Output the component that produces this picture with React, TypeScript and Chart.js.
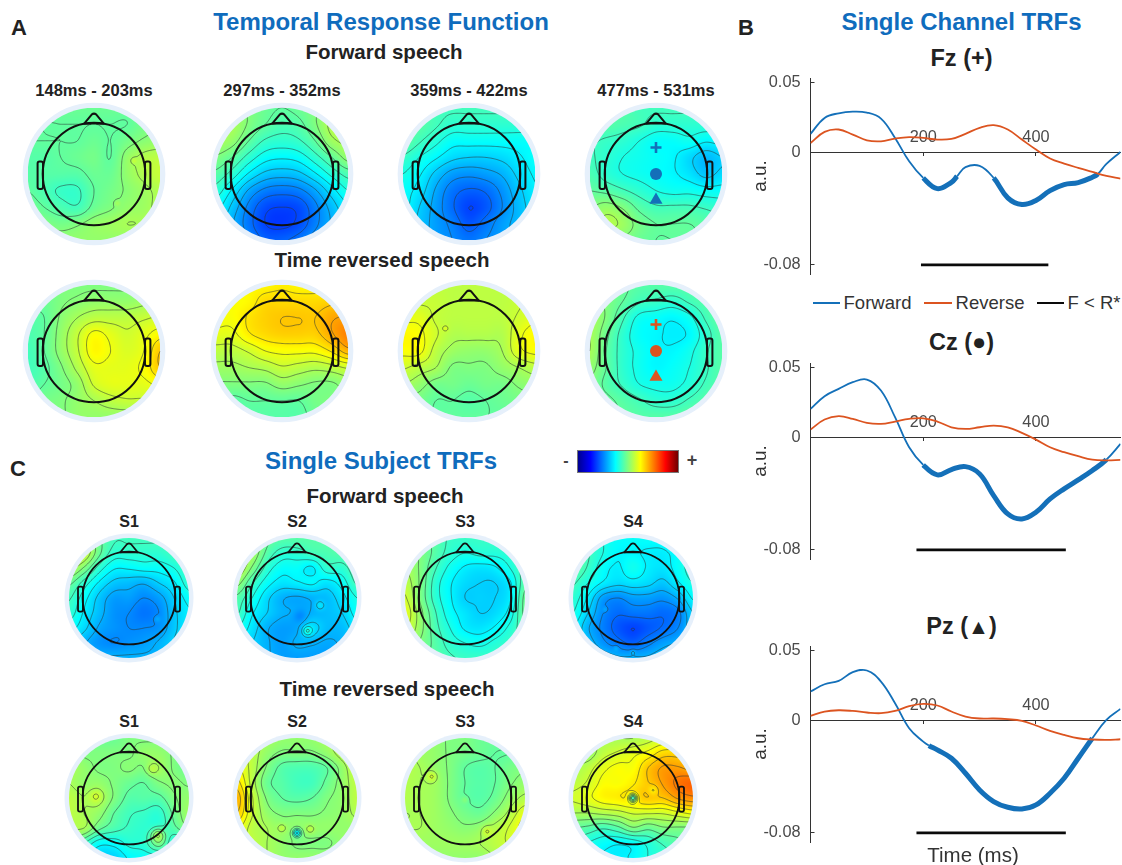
import React, { useEffect, useRef } from "react";
import { Chart, registerables } from "chart.js";

Chart.register(...registerables);

/* ---------- single channel traces (time in ms, amplitude in a.u.) ---------- */
const reverseTimes = [0, 25, 50, 75, 100, 125, 150, 175, 200, 225, 250, 275, 300, 325, 350, 375, 400, 425, 450, 475, 500, 525, 550];

const fzForwardTimes = [0, 25, 50, 75, 100, 125, 150, 175, 200, 225, 250, 260, 275, 300, 325, 350, 375, 400, 425, 450, 475, 500, 510, 525, 550];
const fzForward = [0.0136, 0.025, 0.0283, 0.0295, 0.0288, 0.0245, 0.0107, -0.006, -0.0179, -0.0255, -0.021, -0.0167, -0.0102, -0.0093, -0.0179, -0.0321, -0.0369, -0.034, -0.0269, -0.0226, -0.0212, -0.0174, -0.015, -0.0079, 0.0007];
const fzReverse = [0.0071, 0.015, 0.0167, 0.0131, 0.009, 0.0083, 0.0102, 0.0112, 0.0107, 0.0095, 0.01, 0.0136, 0.0179, 0.0198, 0.0167, 0.0095, 0.0024, -0.004, -0.0076, -0.0107, -0.0136, -0.0164, -0.0183];
const fzThick = [[200, 260], [325, 510]];
const fzBar = [196, 422];

const czForwardTimes = reverseTimes;
const czForward = [0.0207, 0.0298, 0.035, 0.0398, 0.0417, 0.0338, 0.0148, -0.0067, -0.0193, -0.0264, -0.0226, -0.0205, -0.0257, -0.0412, -0.0543, -0.0579, -0.0531, -0.0436, -0.0364, -0.03, -0.0233, -0.0155, -0.0043];
const czReverse = [0.006, 0.0131, 0.0155, 0.0136, 0.0107, 0.01, 0.0117, 0.0136, 0.014, 0.0117, 0.0076, 0.0064, 0.0076, 0.0088, 0.0076, 0.0036, -0.0012, -0.0067, -0.0102, -0.0131, -0.0155, -0.016, -0.0157];
const czThick = [[200, 525]];
const czBar = [188, 453];

const pzForwardTimes = [0, 25, 50, 75, 100, 125, 150, 175, 200, 210, 225, 250, 275, 300, 325, 350, 375, 400, 425, 450, 475, 500, 525, 550];
const pzForward = [0.021, 0.0262, 0.0286, 0.0348, 0.036, 0.0281, 0.0126, -0.0052, -0.0148, -0.0176, -0.0207, -0.0267, -0.0374, -0.0493, -0.0576, -0.0617, -0.0629, -0.06, -0.0517, -0.041, -0.0267, -0.0124, 0.0007, 0.0086];
const pzReverse = [0.0036, 0.0067, 0.0076, 0.0071, 0.006, 0.0055, 0.0071, 0.0105, 0.0121, 0.011, 0.0067, 0.0031, 0.0017, 0.0017, 0.0012, 0, -0.0033, -0.0071, -0.01, -0.0124, -0.0133, -0.0136, -0.0131];
const pzThick = [[210, 500]];
const pzBar = [188, 453];

const yTicks = [-0.08, 0, 0.05];
const xTicks = [200, 400];
const barLevel = -0.08;

/* ---------- scalp maps: 9x9 levels on the jet scale 0-100, top row = front ---------- */
const forwardA1 = [
  [48, 48, 48, 48, 48, 48, 48, 48, 48],
  [48, 47, 47, 47, 47, 47, 47, 49, 50],
  [47, 47, 47, 47, 48, 47, 49, 51, 52],
  [46, 46, 47, 48, 49, 47, 52, 55, 56],
  [46, 46, 46, 46, 48, 48, 52, 55, 57],
  [47, 45, 43, 43, 47, 49, 51, 53, 55],
  [49, 47, 45, 44, 48, 50, 52, 53, 55],
  [50, 50, 49, 50, 52, 53, 54, 54, 55],
  [52, 52, 52, 52, 52, 52, 52, 52, 52],
];
const forwardA2 = [
  [52, 52, 50, 48, 47, 48, 50, 52, 52],
  [54, 54, 50, 47, 45, 46, 50, 55, 56],
  [54, 52, 47, 43, 42, 43, 47, 53, 55],
  [50, 47, 42, 38, 37, 38, 42, 47, 52],
  [46, 42, 36, 32, 31, 32, 36, 41, 45],
  [42, 36, 29, 25, 24, 25, 29, 35, 40],
  [38, 32, 25, 20, 19, 20, 25, 31, 36],
  [36, 30, 24, 19, 18, 20, 25, 30, 34],
  [36, 32, 26, 22, 22, 24, 28, 32, 34],
];
const forwardA3 = [
  [44, 44, 44, 44, 44, 44, 44, 44, 44],
  [46, 46, 44, 42, 42, 42, 42, 42, 42],
  [47, 44, 41, 38, 38, 38, 38, 38, 38],
  [43, 40, 37, 34, 33, 33, 34, 36, 38],
  [40, 37, 32, 28, 27, 28, 30, 34, 37],
  [38, 35, 29, 24, 22, 23, 27, 32, 36],
  [38, 33, 28, 23, 19, 21, 26, 31, 35],
  [36, 32, 28, 25, 21, 24, 28, 31, 34],
  [35, 32, 28, 26, 24, 26, 28, 31, 33],
];
const forwardA4 = [
  [46, 46, 46, 44, 44, 44, 44, 44, 44],
  [46, 46, 45, 44, 42, 42, 42, 42, 42],
  [44, 43, 42, 40, 38, 38, 39, 37, 38],
  [44, 42, 40, 39, 38, 37, 34, 31, 33],
  [45, 42, 40, 39, 38, 37, 35, 32, 34],
  [47, 46, 44, 42, 40, 39, 39, 38, 38],
  [50, 52, 50, 46, 44, 44, 44, 43, 42],
  [50, 55, 53, 49, 47, 47, 47, 46, 44],
  [50, 50, 50, 48, 47, 47, 47, 46, 44],
];
const reverseA1 = [
  [48, 48, 50, 50, 50, 50, 50, 50, 50],
  [48, 48, 50, 51, 52, 52, 52, 53, 54],
  [46, 47, 51, 54, 56, 56, 56, 57, 58],
  [45, 47, 52, 57, 62, 60, 58, 60, 63],
  [44, 47, 52, 57, 63, 61, 59, 61, 68],
  [44, 46, 50, 55, 60, 60, 60, 62, 68],
  [45, 47, 49, 52, 58, 60, 60, 60, 62],
  [47, 49, 50, 52, 54, 56, 57, 57, 58],
  [50, 50, 50, 52, 52, 52, 52, 52, 52],
];
const reverseA2 = [
  [62, 62, 63, 63, 64, 63, 63, 63, 63],
  [62, 62, 63, 66, 66, 66, 66, 67, 68],
  [62, 62, 65, 67, 68, 68, 68, 71, 72],
  [60, 60, 64, 66, 67, 67, 67, 71, 75],
  [56, 56, 58, 61, 62, 62, 62, 65, 70],
  [53, 53, 54, 55, 57, 56, 55, 56, 58],
  [50, 50, 50, 50, 52, 51, 50, 50, 52],
  [47, 46, 47, 47, 47, 47, 49, 50, 51],
  [46, 46, 46, 46, 46, 46, 48, 50, 50],
];
const reverseA3 = [
  [56, 56, 56, 56, 56, 56, 56, 56, 56],
  [58, 57, 57, 56, 56, 56, 56, 57, 58],
  [60, 60, 57, 56, 56, 56, 56, 58, 60],
  [63, 62, 58, 55, 55, 55, 55, 60, 63],
  [62, 62, 56, 53, 52, 52, 54, 60, 62],
  [58, 56, 54, 50, 50, 50, 52, 54, 56],
  [54, 52, 49, 49, 48, 49, 49, 51, 52],
  [50, 49, 47, 47, 46, 47, 48, 49, 50],
  [47, 47, 47, 47, 47, 47, 47, 47, 47],
];
const reverseA4 = [
  [50, 50, 48, 46, 46, 46, 46, 47, 47],
  [52, 50, 47, 44, 43, 42, 44, 46, 47],
  [54, 50, 44, 39, 38, 37, 39, 44, 47],
  [54, 48, 42, 38, 37, 36, 37, 42, 46],
  [54, 47, 42, 39, 37, 37, 39, 43, 46],
  [52, 47, 42, 39, 37, 38, 40, 43, 46],
  [50, 46, 43, 40, 39, 39, 41, 44, 46],
  [50, 48, 46, 44, 42, 42, 44, 46, 48],
  [50, 48, 47, 46, 46, 46, 47, 48, 50],
];
const subjectF1 = [
  [58, 56, 48, 44, 44, 44, 44, 44, 44],
  [63, 58, 48, 42, 42, 42, 42, 44, 46],
  [56, 50, 42, 37, 37, 38, 38, 40, 44],
  [48, 42, 36, 32, 31, 30, 33, 36, 42],
  [44, 38, 32, 28, 28, 26, 28, 33, 38],
  [42, 36, 31, 27, 26, 24, 26, 32, 36],
  [38, 34, 29, 27, 26, 26, 27, 32, 36],
  [34, 30, 27, 26, 27, 28, 30, 33, 36],
  [30, 30, 30, 30, 30, 30, 30, 30, 30],
];
const subjectF2 = [
  [54, 54, 48, 46, 46, 46, 46, 46, 46],
  [58, 54, 46, 42, 42, 44, 45, 46, 47],
  [58, 50, 42, 38, 38, 36, 42, 42, 46],
  [52, 44, 38, 35, 36, 37, 35, 38, 44],
  [46, 40, 34, 30, 29, 30, 31, 35, 40],
  [44, 37, 33, 30, 30, 30, 31, 33, 38],
  [40, 35, 30, 28, 29, 34, 31, 31, 35],
  [36, 33, 30, 28, 30, 30, 29, 30, 32],
  [32, 32, 30, 28, 28, 28, 28, 30, 30],
];
const subjectF3 = [
  [48, 48, 46, 43, 43, 43, 43, 43, 43],
  [52, 50, 46, 42, 40, 41, 41, 42, 44],
  [54, 50, 44, 39, 36, 35, 36, 40, 45],
  [56, 50, 42, 37, 34, 33, 33, 36, 46],
  [58, 50, 42, 37, 33, 33, 33, 36, 48],
  [60, 52, 44, 38, 35, 33, 34, 38, 48],
  [58, 52, 45, 40, 36, 35, 37, 41, 46],
  [54, 50, 46, 42, 40, 39, 41, 43, 46],
  [50, 48, 46, 44, 43, 43, 43, 44, 46],
];
const subjectF4 = [
  [48, 44, 40, 38, 38, 38, 38, 40, 42],
  [48, 44, 40, 37, 37, 36, 36, 38, 42],
  [47, 43, 38, 36, 39, 36, 35, 38, 42],
  [44, 40, 36, 34, 35, 34, 32, 36, 40],
  [42, 36, 28, 26, 28, 28, 27, 30, 37],
  [40, 33, 26, 23, 24, 24, 23, 25, 33],
  [37, 30, 25, 21, 19, 21, 23, 26, 32],
  [38, 32, 27, 24, 22, 25, 28, 30, 33],
  [38, 36, 32, 30, 30, 30, 32, 34, 36],
];
const subjectR1 = [
  [50, 50, 48, 48, 50, 50, 50, 50, 50],
  [52, 50, 50, 50, 50, 52, 52, 50, 48],
  [54, 52, 50, 50, 51, 50, 53, 50, 48],
  [54, 52, 52, 50, 48, 47, 50, 51, 50],
  [56, 54, 54, 50, 46, 46, 46, 50, 52],
  [56, 54, 52, 47, 44, 43, 42, 48, 53],
  [54, 54, 48, 45, 43, 42, 42, 46, 50],
  [52, 44, 38, 38, 41, 42, 48, 40, 38],
  [44, 38, 33, 33, 37, 38, 38, 38, 38],
];
const subjectR2 = [
  [56, 56, 54, 52, 52, 52, 54, 56, 56],
  [60, 56, 52, 50, 50, 50, 52, 56, 60],
  [62, 56, 50, 46, 45, 45, 47, 52, 58],
  [66, 56, 48, 46, 44, 44, 48, 52, 56],
  [70, 58, 50, 47, 46, 47, 50, 52, 56],
  [68, 58, 52, 50, 50, 50, 51, 52, 55],
  [62, 56, 54, 52, 52, 52, 52, 52, 52],
  [58, 56, 54, 52, 50, 50, 50, 52, 54],
  [54, 54, 54, 52, 52, 52, 52, 52, 52],
];
const subjectR3 = [
  [53, 53, 52, 50, 50, 48, 48, 48, 48],
  [55, 53, 52, 50, 49, 48, 47, 47, 48],
  [55, 54, 52, 50, 47, 46, 47, 49, 50],
  [55, 54, 53, 50, 47, 46, 47, 50, 52],
  [55, 54, 53, 50, 47, 46, 48, 52, 55],
  [54, 54, 53, 51, 49, 48, 51, 55, 60],
  [54, 54, 53, 52, 51, 52, 55, 58, 63],
  [53, 53, 53, 53, 53, 54, 56, 58, 60],
  [52, 52, 52, 52, 52, 52, 54, 56, 58],
];
const subjectR4 = [
  [54, 54, 54, 54, 54, 56, 58, 58, 58],
  [52, 52, 56, 58, 60, 62, 66, 66, 64],
  [54, 56, 60, 62, 62, 68, 72, 72, 70],
  [56, 58, 62, 62, 64, 68, 72, 76, 78],
  [58, 60, 63, 64, 66, 68, 68, 72, 74],
  [54, 54, 55, 56, 58, 58, 58, 60, 62],
  [47, 46, 44, 46, 50, 48, 50, 50, 50],
  [44, 40, 38, 37, 38, 41, 44, 46, 48],
  [40, 38, 36, 36, 37, 40, 42, 44, 46],
];

/* small local patches: x, y, level change, radius */
const spotsA1 = [[0.6, 0.2, 3, 0.03], [0.35, -0.44, 3, 0.03]];
const spotsB3 = [[-0.35, 0.34, 3, 0.03]];
const spotsF1 = [[0.47, -0.35, 3, 0.04]];
const spotsF2 = [[0.17, -0.55, 8, 0.06], [0.38, -0.12, 5, 0.06], [0.05, -0.3, -4, 0.08]];
const spotsF4 = [[-0.46, -0.19, 3, 0.03], [-0.28, -0.84, 3, 0.03], [0, -0.9, 3, 0.03]];
const spotsR1 = [[0.48, -0.61, 9, 0.08], [-0.55, 0.03, 4, 0.08], [0.38, 0.48, 4, 0.07]];
const spotsR2 = [[0, -0.58, -16, 0.05], [-0.25, -0.5, 4, 0.05], [0.22, -0.52, 4, 0.05]];
const spotsR3 = [[-0.55, 0.36, 5, 0.06], [0.36, -0.55, 4, 0.06], [0, -0.03, 3, 0.04]];
const spotsR4 = [[0, 0, -22, 0.05], [0.34, 0.13, -5, 0.06]];

const markerY = [0.4, 0, -0.39];
const markerStyles = ["cross", "circle", "triangle"];
const gridStops = [-1, -0.75, -0.5, -0.25, 0, 0.25, 0.5, 0.75, 1];

const font = '"Liberation Sans", Arial, sans-serif';
const BLUE = "#0f6cbd";
const FORWARD = "#1470b9";
const REVERSE = "#dc5420";

const clamp = (v: number) => Math.max(0, Math.min(1, v));
const jet = (level: number) => {
  const t = level / 100;
  return [clamp(1.5 - Math.abs(4 * t - 3)) * 255, clamp(1.5 - Math.abs(4 * t - 2)) * 255, clamp(1.5 - Math.abs(4 * t - 1)) * 255];
};
const cubic = (a: number, b: number, c: number, d: number, t: number) =>
  b + 0.5 * t * (c - a + t * (2 * a - 5 * b + 4 * c - d + t * (3 * (b - c) + d - a)));

const sampler = (points: any[], spots: number[][]) => {
  const at = (i: number, j: number) => points[Math.max(0, Math.min(8, j)) * 9 + Math.max(0, Math.min(8, i))].v;
  return (x: number, y: number) => {
    const gx = Math.max(0, Math.min(7.9999, (x + 1) * 4));
    const gy = Math.max(0, Math.min(7.9999, (1 - y) * 4));
    const i = Math.floor(gx), j = Math.floor(gy);
    const row = [-1, 0, 1, 2].map((dj) =>
      cubic(at(i - 1, j + dj), at(i, j + dj), at(i + 1, j + dj), at(i + 2, j + dj), gx - i));
    let v = cubic(row[0], row[1], row[2], row[3], gy - j);
    for (const [sx, sy, amp, rad] of spots) {
      const d2 = (x - sx) ** 2 + (y - sy) ** 2;
      v += amp * Math.exp(-d2 / (2 * rad * rad));
    }
    return v;
  };
};

const topoPlugin = {
  id: "topo",
  beforeDatasetsDraw(chart: any) {
    const { ctx, scales } = chart;
    const ds = chart.data.datasets[0];
    const field = sampler(ds.data, ds.spots || []);
    const cx = scales.x.getPixelForValue(0);
    const cy = scales.y.getPixelForValue(0);
    const R = scales.x.getPixelForValue(1) - cx;
    ctx.save();
    ctx.fillStyle = "#e6f0fb";
    ctx.beginPath();
    ctx.arc(cx, cy, R * 1.075, 0, Math.PI * 2);
    ctx.fill();

    const n = Math.ceil(R * 2);
    const off = document.createElement("canvas");
    off.width = n;
    off.height = n;
    const octx = off.getContext("2d") as CanvasRenderingContext2D;
    const img = octx.createImageData(n, n);
    for (let py = 0; py < n; py++) {
      for (let px = 0; px < n; px++) {
        const x = ((px + 0.5) / n) * 2 - 1;
        const y = 1 - ((py + 0.5) / n) * 2;
        const [r, g, b] = jet(field(x, y));
        const k = (py * n + px) * 4;
        img.data[k] = r;
        img.data[k + 1] = g;
        img.data[k + 2] = b;
        img.data[k + 3] = 255;
      }
    }
    octx.putImageData(img, 0, 0);
    ctx.save();
    ctx.beginPath();
    ctx.arc(cx, cy, R, 0, Math.PI * 2);
    ctx.clip();
    ctx.drawImage(off, cx - R, cy - R, R * 2, R * 2);

    // contour lines by marching squares
    const N = 110;
    const vals: number[][] = [];
    for (let j = 0; j <= N; j++) {
      const line: number[] = [];
      for (let i = 0; i <= N; i++) line.push(field((i / N) * 2 - 1, 1 - (j / N) * 2));
      vals.push(line);
    }
    ctx.strokeStyle = "rgba(45,55,55,0.7)";
    ctx.lineWidth = 0.8;
    ctx.beginPath();
    const toPx = (i: number, j: number) => [cx - R + (i / N) * 2 * R, cy - R + (j / N) * 2 * R];
    for (let lev = 1.5; lev < 100; lev += 3.5) {
      for (let j = 0; j < N; j++) {
        for (let i = 0; i < N; i++) {
          const a = vals[j][i], b = vals[j][i + 1], c = vals[j + 1][i + 1], d = vals[j + 1][i];
          const cross: number[][] = [];
          if (a < lev !== b < lev) cross.push(toPx(i + (lev - a) / (b - a), j));
          if (b < lev !== c < lev) cross.push(toPx(i + 1, j + (lev - b) / (c - b)));
          if (d < lev !== c < lev) cross.push(toPx(i + (lev - d) / (c - d), j + 1));
          if (a < lev !== d < lev) cross.push(toPx(i, j + (lev - a) / (d - a)));
          for (let s = 0; s + 1 < cross.length; s += 2) {
            ctx.moveTo(cross[s][0], cross[s][1]);
            ctx.lineTo(cross[s + 1][0], cross[s + 1][1]);
          }
        }
      }
    }
    ctx.stroke();
    ctx.restore();

    // head outline
    ctx.strokeStyle = "#111";
    ctx.lineWidth = R > 63 ? 2 : 1.8;
    ctx.lineJoin = "round";
    const X = (v: number) => cx + v * R;
    const Y = (v: number) => cy - v * R;
    ctx.beginPath();
    ctx.arc(cx, cy, R * 0.773, 0, Math.PI * 2);
    ctx.stroke();
    ctx.beginPath();
    ctx.moveTo(X(-0.145), Y(0.762));
    ctx.lineTo(X(-0.035), Y(0.895));
    ctx.quadraticCurveTo(X(0), Y(0.925), X(0.035), Y(0.895));
    ctx.lineTo(X(0.145), Y(0.762));
    ctx.closePath();
    ctx.stroke();
    for (const s of [-1, 1]) {
      ctx.beginPath();
      ctx.roundRect(Math.min(X(s * 0.768), X(s * 0.85)), Y(0.19), 0.082 * R, 0.417 * R, 0.03 * R);
      ctx.stroke();
    }
    ctx.restore();
  },
};

function Topo({ cx, cy, size, levels, spots, marker }: any) {
  const ref = useRef<HTMLCanvasElement>(null);
  useEffect(() => {
    const points: any[] = [];
    levels.forEach((row: number[], j: number) =>
      row.forEach((v, i) => points.push({ x: gridStops[i], y: gridStops[8 - j], v })));
    const datasets: any[] = [{ data: points, spots, pointRadius: 0 }];
    if (marker) {
      datasets.push({
        data: markerY.map((y) => ({ x: 0, y })),
        pointStyle: markerStyles,
        pointRadius: [5.5, 6, 7.5],
        pointBackgroundColor: marker,
        pointBorderColor: marker,
        pointBorderWidth: [2.6, 0, 0],
      });
    }
    const chart = new Chart(ref.current as HTMLCanvasElement, {
      type: "scatter",
      data: { datasets },
      options: {
        responsive: false,
        animation: false,
        layout: { padding: 0, autoPadding: false },
        events: [],
        plugins: { legend: { display: false }, tooltip: { enabled: false } },
        scales: {
          x: { type: "linear", min: -1.1, max: 1.1, display: false },
          y: { type: "linear", min: -1.1, max: 1.1, display: false },
        },
      },
      plugins: [topoPlugin],
    } as any);
    return () => chart.destroy();
  }, []);
  return (
    <canvas
      ref={ref}
      width={size}
      height={size}
      style={{ position: "absolute", left: cx - size / 2, top: cy - size / 2 }}
    />
  );
}

function Trace({ top, fTimes, forward, reverse, thick, bar }: any) {
  const ref = useRef<HTMLCanvasElement>(null);
  useEffect(() => {
    const pad = 12;
    const chart = new Chart(ref.current as HTMLCanvasElement, {
      type: "scatter",
      data: {
        datasets: [
          {
            label: "F < R*",
            data: bar.map((x: number) => ({ x, y: barLevel })),
            showLine: true,
            borderColor: "#0a0a0a",
            borderWidth: 2.6,
            pointRadius: 0,
            clip: false,
          },
          {
            label: "Reverse",
            data: reverseTimes.map((x, i) => ({ x, y: reverse[i] })),
            showLine: true,
            borderColor: REVERSE,
            borderWidth: 1.8,
            pointRadius: 0,
            tension: 0.4,
          },
          {
            label: "Forward",
            data: fTimes.map((x: number, i: number) => ({ x, y: forward[i] })),
            showLine: true,
            borderColor: FORWARD,
            borderWidth: 1.8,
            pointRadius: 0,
            tension: 0.4,
            segment: {
              borderWidth: (c: any) =>
                thick.some(([a, b]: number[]) => c.p0.parsed.x >= a && c.p1.parsed.x <= b) ? 5 : 1.8,
            },
          },
        ],
      },
      options: {
        responsive: false,
        animation: false,
        events: [],
        layout: { padding: { top: pad, bottom: pad, left: 0, right: 1.5 }, autoPadding: false },
        plugins: { legend: { display: false }, tooltip: { enabled: false } },
        scales: {
          x: {
            type: "linear",
            min: 0,
            max: 550,
            position: { y: 0 },
            afterBuildTicks: (s: any) => { s.ticks = xTicks.map((value) => ({ value })); },
            afterFit: (s: any) => { s.paddingLeft = 0; s.paddingRight = 0; },
            grid: { drawOnChartArea: false, drawTicks: true, tickLength: 3, color: "#333" },
            border: { color: "#333", width: 1 },
            ticks: {
              color: "#4a4a4a",
              font: { family: font, size: 16.3 },
              padding: -28,
              maxRotation: 0,
              autoSkip: false,
              callback: (v: any) => String(v),
            },
          },
          y: {
            type: "linear",
            min: -0.0865,
            max: 0.0535,
            afterBuildTicks: (s: any) => { s.ticks = yTicks.map((value) => ({ value })); },
            afterFit: (s: any) => { s.width = 61.5; s.paddingTop = 0; s.paddingBottom = 0; },
            grid: { drawOnChartArea: false, drawTicks: true, tickLength: -4, color: "#333" },
            border: { color: "#333", width: 1 },
            title: { display: true, text: "a.u.", color: "#333", padding: 0, font: { family: font, size: 19 } },
            ticks: {
              color: "#4a4a4a",
              font: { family: font, size: 16.3 },
              padding: 14,
              autoSkip: false,
              callback: (v: any) => String(v),
            },
          },
        },
      },
    } as any);
    return () => chart.destroy();
  }, []);
  return (
    <canvas
      ref={ref}
      width={373}
      height={220}
      style={{ position: "absolute", left: 749, top: top - 12 }}
    />
  );
}

function T({ x, y, size, bold = true, color = "#222", children }: any) {
  return (
    <div
      style={{
        position: "absolute",
        left: x,
        top: y,
        transform: "translate(-50%,-50%)",
        whiteSpace: "nowrap",
        fontFamily: font,
        fontSize: size,
        fontWeight: bold ? 700 : 400,
        color,
        lineHeight: 1,
      }}
    >
      {children}
    </div>
  );
}

function LegendLine({ x1, x2, y, color }: any) {
  return <div style={{ position: "absolute", left: x1, top: y - 1.25, width: x2 - x1, height: 2.5, background: color }} />;
}

const colsA = [94, 282, 469, 656];
const colsC = [129, 297, 465, 633];
const timeLabels = ["148ms - 203ms", "297ms - 352ms", "359ms - 422ms", "477ms - 531ms"];
const subjectLabels = ["S1", "S2", "S3", "S4"];
const rowForward = [forwardA1, forwardA2, forwardA3, forwardA4];
const rowReverse = [reverseA1, reverseA2, reverseA3, reverseA4];
const rowSubjectF = [subjectF1, subjectF2, subjectF3, subjectF4];
const rowSubjectR = [subjectR1, subjectR2, subjectR3, subjectR4];
const spotsForward: number[][][] = [spotsA1, [], [], []];
const spotsReverse: number[][][] = [[], [], spotsB3, []];
const spotsSubjectF: number[][][] = [spotsF1, spotsF2, [], spotsF4];
const spotsSubjectR: number[][][] = [spotsR1, spotsR2, spotsR3, spotsR4];

export default function App() {
  return (
    <div style={{ position: "absolute", left: 0, top: 0, width: 1122, height: 865, background: "#fff", overflow: "hidden" }}>
      <T x={19} y={28} size={22}>A</T>
      <T x={381} y={22} size={24} color={BLUE}>Temporal Response Function</T>
      <T x={384} y={52} size={20.5}>Forward speech</T>
      {timeLabels.map((l, i) => <T key={l} x={colsA[i]} y={90} size={16.5}>{l}</T>)}
      {rowForward.map((m, i) => (
        <Topo key={"af" + i} cx={colsA[i]} cy={173.5} size={146} levels={m} spots={spotsForward[i]} marker={i === 3 ? FORWARD : null} />
      ))}
      <T x={382} y={260} size={20.5}>Time reversed speech</T>
      {rowReverse.map((m, i) => (
        <Topo key={"ar" + i} cx={colsA[i]} cy={351} size={146} levels={m} spots={spotsReverse[i]} marker={i === 3 ? REVERSE : null} />
      ))}

      <T x={18} y={469} size={22}>C</T>
      <T x={381} y={461} size={24} color={BLUE}>Single Subject TRFs</T>
      <T x={385} y={496} size={20.5}>Forward speech</T>
      <T x={566} y={461} size={16} color="#444">-</T>
      <div
        style={{
          position: "absolute",
          left: 577,
          top: 450,
          width: 102,
          height: 23,
          boxSizing: "border-box",
          border: "1px solid #777",
          background: "linear-gradient(to right,#00008f,#0000ff 12.5%,#00ffff 37.5%,#80ff80 50%,#ffff00 62.5%,#ff8000 75%,#ff0000 87.5%,#700000)",
        }}
      />
      <T x={692} y={460} size={18} color="#444">+</T>
      {subjectLabels.map((l, i) => <T key={"f" + l} x={colsC[i]} y={522} size={16}>{l}</T>)}
      {rowSubjectF.map((m, i) => (
        <Topo key={"cf" + i} cx={colsC[i]} cy={598} size={132} levels={m} spots={spotsSubjectF[i]} marker={null} />
      ))}
      <T x={387} y={689} size={20.5}>Time reversed speech</T>
      {subjectLabels.map((l, i) => <T key={"r" + l} x={colsC[i]} y={722} size={16}>{l}</T>)}
      {rowSubjectR.map((m, i) => (
        <Topo key={"cr" + i} cx={colsC[i]} cy={798} size={132} levels={m} spots={spotsSubjectR[i]} marker={null} />
      ))}

      <T x={746} y={28} size={22}>B</T>
      <T x={961.5} y={22} size={24} color={BLUE}>Single Channel TRFs</T>
      <T x={961.5} y={59} size={23.5}>Fz (+)</T>
      <Trace top={78} fTimes={fzForwardTimes} forward={fzForward} reverse={fzReverse} thick={fzThick} bar={fzBar} />
      <LegendLine x1={813} x2={840} y={303} color={FORWARD} />
      <T x={877.5} y={303} size={18.5} bold={false} color="#333">Forward</T>
      <LegendLine x1={924} x2={952} y={303} color={REVERSE} />
      <T x={990} y={303} size={18.5} bold={false} color="#333">Reverse</T>
      <LegendLine x1={1037} x2={1064} y={303} color="#0a0a0a" />
      <T x={1094} y={303} size={18.5} bold={false} color="#333">F &lt; R*</T>
      <T x={961.5} y={343} size={23.5}>Cz (●)</T>
      <Trace top={362.5} fTimes={czForwardTimes} forward={czForward} reverse={czReverse} thick={czThick} bar={czBar} />
      <T x={961.5} y={627} size={23.5}>Pz (<span style={{ fontSize: "0.9em" }}>▲</span>)</T>
      <Trace top={645.5} fTimes={pzForwardTimes} forward={pzForward} reverse={pzReverse} thick={pzThick} bar={pzBar} />
      <T x={973} y={855} size={20.5} bold={false} color="#333">Time (ms)</T>
    </div>
  );
}
